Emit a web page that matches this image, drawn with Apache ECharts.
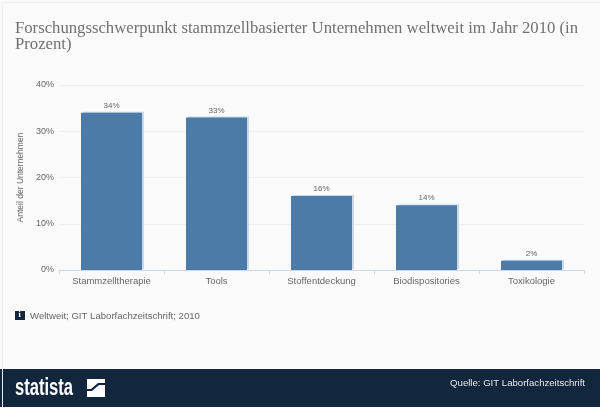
<!DOCTYPE html>
<html><head><meta charset="utf-8">
<style>html,body{margin:0;padding:0;background:#fafafa}#c{width:600px;height:408px}</style>
<script src="https://cdn.jsdelivr.net/npm/echarts@6/dist/echarts.min.js"></script>
</head><body><div id="c"></div>
<script>
var categories = ['Stammzelltherapie','Tools','Stoffentdeckung','Biodispositories','Toxikologie'];
var values = [34,33,16,14,2];
var titleText = 'Forschungsschwerpunkt stammzellbasierter Unternehmen weltweit im Jahr 2010 (in\nProzent)';
var yAxisName = 'Anteil der Unternehmen';
var noteText = 'Weltweit; GIT Laborfachzeitschrift; 2010';
var sourceText = 'Quelle: GIT Laborfachzeitschrift';
var chart = echarts.init(document.getElementById('c'),null,{renderer:'canvas'});
chart.setOption({
  backgroundColor:'#fafafa',
  animation:false,
  title:{text:titleText,left:15,top:21,padding:0,textStyle:{fontFamily:'Liberation Serif',fontWeight:'normal',fontSize:16.7,lineHeight:16,color:'#707070'}},
  grid:{left:59,right:16,top:85,bottom:138,containLabel:false},
  xAxis:{type:'category',data:categories,
    axisLine:{lineStyle:{color:'#ccd6e6',width:1}},
    axisTick:{show:true,length:4,alignWithLabel:false,lineStyle:{color:'#ccd6e6'}},
    axisLabel:{interval:0,color:'#666666',fontFamily:'Liberation Sans',fontSize:9.5,margin:6}},
  yAxis:{type:'value',min:0,max:40,interval:10,
    name:yAxisName,nameLocation:'middle',nameGap:34,
    nameTextStyle:{color:'#666666',fontFamily:'Liberation Sans',fontSize:8.5},
    axisLine:{show:false},axisTick:{show:false},
    axisLabel:{formatter:'{value}%',color:'#666666',fontFamily:'Liberation Sans',fontSize:9,margin:5},
    splitLine:{lineStyle:{color:'#eeeeee',width:1}}},
  series:[{type:'bar',data:values,barWidth:61,
    itemStyle:{color:'#4c7ba8',shadowColor:'#c9d9e8',shadowBlur:0,shadowOffsetX:2,shadowOffsetY:-1},
    label:{show:true,position:'top',distance:3,formatter:'{c}%',color:'#666666',fontFamily:'Liberation Sans',fontSize:8}}],
  graphic:[
    {type:'rect',left:0,top:369,z:10,shape:{width:600,height:38},style:{fill:'#12263d'}},
    {type:'text',x:15,y:377,scaleX:0.72,z:11,style:{text:'statista',fill:'#ffffff',font:'bold 23px "Liberation Sans"'}},
    {type:'polygon',z:11,shape:{points:[[87,379],[105,379],[105,397],[87,397]]},style:{fill:'#ffffff'}},
    {type:'polygon',z:12,shape:{points:[[87,391],[92,391],[99,385],[105,385],[105,383],[98,383],[91,389],[87,389]]},style:{fill:'#12263d'}},
    {type:'text',right:15,top:378,z:11,style:{text:sourceText,fill:'#e8e8e8',font:'9.6px "Liberation Sans"'}},
    {type:'rect',left:15,top:311,z:11,shape:{width:10,height:9},style:{fill:'#12263d'}},
    {type:'text',left:18.5,top:311,z:12,style:{text:'i',fill:'#ffffff',font:'bold 8px "Liberation Serif"'}},
    {type:'text',left:30,top:311,z:11,style:{text:noteText,fill:'#666666',font:'9.6px "Liberation Sans"'}},
    {type:'rect',left:0,top:0,z:20,shape:{width:599,height:407},style:{fill:'none',stroke:'#eeeeee',lineWidth:1}}
  ]
});
</script></body></html>
